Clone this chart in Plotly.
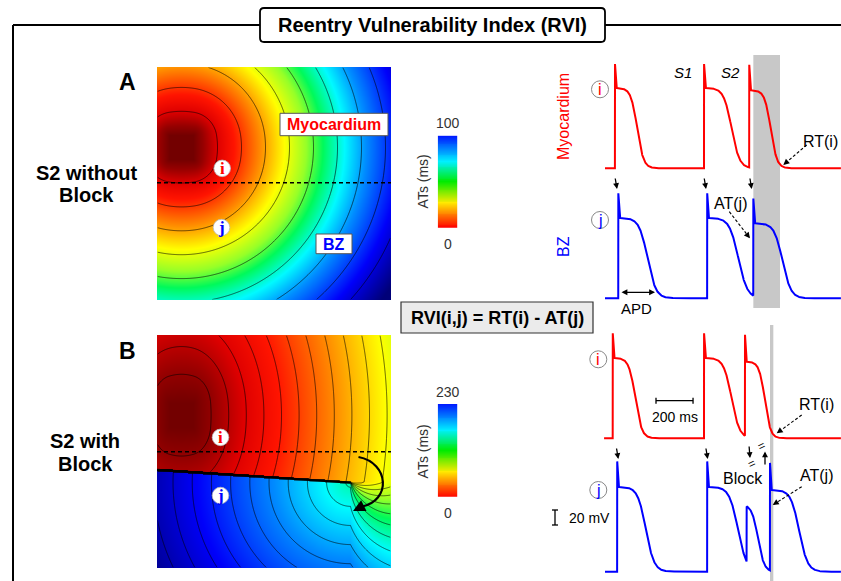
import numpy as np
import plotly.graph_objects as go

W, H = 841, 581
SANS = "Liberation Sans, Arial, Helvetica, sans-serif"
SERIF = "Liberation Serif, Times New Roman, serif"

# ------------------------------------------------------------------
# Activation-time maps (grid units, ms) -- conduction parameters
# ------------------------------------------------------------------
MAP_N = 234
STIM_XY = (24.0, 80.0)
STIM_HALF = 12.0
STIM_SHAPE_MS = 15.0
A_VEL = 2.4
A_AT_MAX = 100
A_CONTOUR_STEP = 10
B_VEL_X = 2.2
B_VEL_Y = 3.3
B_VEL_BZ = 2.4
B_PIVOT_DELAY = 60
B_BLOCK_START = (0.0, 135.0)
B_BLOCK_END = (193.0, 147.7)
B_AT_MAX = 230
B_CONTOUR_STEP = 8
A_DASH_Y = 115.7
B_DASH_Y = 116.7
A_SITE_I = (64.7, 101.3)
A_SITE_J = (64.0, 160.7)
B_SITE_I = (63.0, 102.3)
B_SITE_J = (63.0, 160.7)

# ------------------------------------------------------------------
# Action potentials (ms, mV)
# ------------------------------------------------------------------
V_REST = -85.0
SPIKE_MS = 6.0
T_END = 1301.0
A_TRACE_START = 27.0
B_RED_START = 22.0
B_BLUE_START = 27.0

A_RED_UP = [81, 562, 806]
A_RED_APD = [171, 212, 166]
A_RED_PEAK = [54, 54, 53]
A_RED_PLAT = [22, 22, 19]

A_BLUE_UP = [99, 579, 828]
A_BLUE_APD = [225, 240, 225]
A_BLUE_PEAK = [55, 55, 48]
A_BLUE_PLAT = [22, 22, 15]

B_RED_UP = [69, 562, 783]
B_RED_APD = [174, 212, 153]
B_RED_PEAK = [55, 55, 53]
B_RED_PLAT = [22, 22, 17]

B_BLUE_UP = [93, 579, 792, 918]
B_BLUE_APD = [221, 213, 111, 225]
B_BLUE_PEAK = [62, 62, 2, 60]
B_BLUE_PLAT = [28, 28, 2, 24]
B_BLUE_SHAPE_C = [0.7, 0.78, 0.55, 0.7]
B_BLUE_SHAPE_W = [0.1, 0.11, 0.15, 0.1]

SCALE_MS = 200
SCALE_MV = 20

# ------------------------------------------------------------------
# layout constants (pixels)
# ------------------------------------------------------------------
MS_PER_PX = 5.4
MV_PER_PX = 1.333
T0_PX = 600.0


def fx(p):
    return p / W


def fy(p):
    return 1 - p / H


def dom_x(a, b):
    return [a / W, b / W]


def dom_y(top, bot):
    return [1 - bot / H, 1 - top / H]


# ------------------------------------------------------------------
# AT fields
# ------------------------------------------------------------------
gx = np.arange(MAP_N, dtype=float)
X, Y = np.meshgrid(gx, gx)


def stim_time(Xa, Ya, vx, vy):
    dxa = np.abs(Xa - STIM_XY[0])
    dya = np.abs(Ya - STIM_XY[1])
    ddx = np.maximum(dxa - STIM_HALF, 0)
    ddy = np.maximum(dya - STIM_HALF, 0)
    t_sq = np.sqrt((ddx / vx) ** 2 + (ddy / vy) ** 2)
    t_c = np.maximum(np.hypot(dxa / vx, dya / vy) - STIM_HALF / vx, 0)
    w = np.exp(-t_sq / STIM_SHAPE_MS)
    return w * t_sq + (1 - w) * t_c


at_a = np.clip(stim_time(X, Y, A_VEL, A_VEL), 0, A_AT_MAX)

top_b = stim_time(X, Y, B_VEL_X, B_VEL_Y)
pxb, pyb = B_BLOCK_END
at_pivot = float(stim_time(np.array(pxb), np.array(pyb), B_VEL_X, B_VEL_Y))
phi = np.arctan2(Y - pyb, X - pxb)
phi_b = np.arctan2(B_BLOCK_START[1] - pyb, B_BLOCK_START[0] - pxb)
psi = np.mod(phi - phi_b, 2 * np.pi)
psi0 = np.mod(-phi_b, 2 * np.pi)
s = np.clip((psi - psi0) / (np.pi / 2), 0, 1)
r = np.hypot(X - pxb, Y - pyb)
far = at_pivot + B_PIVOT_DELAY + r / B_VEL_BZ
at_b = np.clip((1 - s) * top_b + s * far, 0, B_AT_MAX)

MAP_CS = [
    [0.00, "rgb(115,0,0)"],
    [0.04, "rgb(150,0,0)"],
    [0.10, "rgb(222,0,0)"],
    [0.17, "rgb(255,20,0)"],
    [0.28, "rgb(255,140,0)"],
    [0.38, "rgb(255,255,0)"],
    [0.47, "rgb(150,255,40)"],
    [0.54, "rgb(0,250,90)"],
    [0.63, "rgb(0,250,255)"],
    [0.72, "rgb(0,140,255)"],
    [0.86, "rgb(0,0,250)"],
    [1.00, "rgb(0,0,120)"],
]
BAR_CS = [
    [0.00, "rgb(255,0,0)"],
    [0.14, "rgb(255,120,0)"],
    [0.27, "rgb(255,235,0)"],
    [0.50, "rgb(0,235,0)"],
    [0.72, "rgb(0,240,255)"],
    [1.00, "rgb(0,20,255)"],
]

# ------------------------------------------------------------------
# AP waveforms
# ------------------------------------------------------------------


def ap_trace(t_start, ups, apds, peaks, plats, cs=None, ws=None):
    t = np.arange(t_start, T_END + 0.25, 0.5)
    v = np.full_like(t, V_REST)
    for k in range(len(ups)):
        c = 0.7 if cs is None else cs[k]
        w = 0.1 if ws is None else ws[k]
        m = t >= ups[k]
        dt = t[m] - ups[k]
        tau = dt / apds[k]
        g = 1 / (1 + np.exp((tau - c) / w))
        g0 = 1 / (1 + np.exp(-c / w))
        vk = V_REST + (plats[k] - V_REST) * g / g0
        sp = dt < SPIKE_MS
        vk[sp] = peaks[k] + (vk[sp] - peaks[k]) * dt[sp] / SPIKE_MS
        v[m] = vk
    return t, v


fig = go.Figure()

# maps
fig.add_trace(go.Heatmap(z=at_a, x=gx, y=gx, colorscale=MAP_CS, zmin=0, zmax=A_AT_MAX,
                         showscale=False, hoverinfo="skip", xaxis="x", yaxis="y"))
fig.add_trace(go.Contour(z=at_a, x=gx, y=gx, showscale=False, hoverinfo="skip",
                         contours=dict(coloring="none", start=A_CONTOUR_STEP,
                                       end=A_AT_MAX - A_CONTOUR_STEP, size=A_CONTOUR_STEP),
                         line=dict(color="black", width=0.6), xaxis="x", yaxis="y"))
fig.add_trace(go.Heatmap(z=at_b, x=gx, y=gx, colorscale=MAP_CS, zmin=0, zmax=B_AT_MAX,
                         showscale=False, hoverinfo="skip", xaxis="x2", yaxis="y2"))
fig.add_trace(go.Contour(z=at_b, x=gx, y=gx, showscale=False, hoverinfo="skip",
                         contours=dict(coloring="none", start=B_CONTOUR_STEP,
                                       end=B_AT_MAX - B_CONTOUR_STEP, size=B_CONTOUR_STEP),
                         line=dict(color="black", width=0.6), xaxis="x2", yaxis="y2"))

# colour bars
for ax_i, vmax in ((3, A_AT_MAX), (4, B_AT_MAX)):
    yy = np.linspace(0, vmax, 101)
    fig.add_trace(go.Heatmap(z=yy.reshape(-1, 1), x=[0], y=yy, colorscale=BAR_CS,
                             zmin=0, zmax=vmax, showscale=False, hoverinfo="skip",
                             xaxis=f"x{ax_i}", yaxis=f"y{ax_i}"))

# traces
RED, BLUE = "#ff0000", "#0000ff"
t, v = ap_trace(A_TRACE_START, A_RED_UP, A_RED_APD, A_RED_PEAK, A_RED_PLAT)
fig.add_trace(go.Scatter(x=t, y=v, mode="lines", line=dict(color=RED, width=2),
                         hoverinfo="skip", xaxis="x5", yaxis="y5"))
t, v = ap_trace(A_TRACE_START, A_BLUE_UP, A_BLUE_APD, A_BLUE_PEAK, A_BLUE_PLAT)
fig.add_trace(go.Scatter(x=t, y=v, mode="lines", line=dict(color=BLUE, width=2),
                         hoverinfo="skip", xaxis="x6", yaxis="y6"))
t, v = ap_trace(B_RED_START, B_RED_UP, B_RED_APD, B_RED_PEAK, B_RED_PLAT)
fig.add_trace(go.Scatter(x=t, y=v, mode="lines", line=dict(color=RED, width=2),
                         hoverinfo="skip", xaxis="x7", yaxis="y7"))
t, v = ap_trace(B_BLUE_START, B_BLUE_UP, B_BLUE_APD, B_BLUE_PEAK, B_BLUE_PLAT,
                B_BLUE_SHAPE_C, B_BLUE_SHAPE_W)
fig.add_trace(go.Scatter(x=t, y=v, mode="lines", line=dict(color=BLUE, width=2),
                         hoverinfo="skip", xaxis="x8", yaxis="y8"))

# ------------------------------------------------------------------
# axes
# ------------------------------------------------------------------
layout_axes = {}


def set_axes(i, xd, yd, xr, yr):
    xk = "xaxis" if i == 1 else f"xaxis{i}"
    yk = "yaxis" if i == 1 else f"yaxis{i}"
    layout_axes[xk] = dict(domain=xd, range=xr, visible=False, fixedrange=True,
                           anchor="y" if i == 1 else f"y{i}")
    layout_axes[yk] = dict(domain=yd, range=yr, visible=False, fixedrange=True,
                           anchor="x" if i == 1 else f"x{i}")


set_axes(1, dom_x(157, 391), dom_y(67, 300), [-0.5, MAP_N - 0.5], [MAP_N - 0.5, -0.5])
set_axes(2, dom_x(157, 391), dom_y(335, 568), [-0.5, MAP_N - 0.5], [MAP_N - 0.5, -0.5])
set_axes(3, dom_x(437.7, 457.3), dom_y(135.7, 227.7), [-0.5, 0.5], [0, A_AT_MAX])
set_axes(4, dom_x(437.7, 457.3), dom_y(404, 496.7), [-0.5, 0.5], [0, B_AT_MAX])

TX_L, TX_R = 540.0, 841.0
t_range = [(TX_L - T0_PX) * MS_PER_PX, (TX_R - T0_PX) * MS_PER_PX]


def v_range(base_px, top_px, bot_px):
    return [V_REST - (bot_px - base_px) * MV_PER_PX, V_REST + (base_px - top_px) * MV_PER_PX]


set_axes(5, dom_x(TX_L, TX_R), dom_y(50, 176), t_range, v_range(168.3, 50, 176))
set_axes(6, dom_x(TX_L, TX_R), dom_y(180, 306), t_range, v_range(298.3, 180, 306))
set_axes(7, dom_x(TX_L, TX_R), dom_y(320, 446), t_range, v_range(438.3, 320, 446))
set_axes(8, dom_x(TX_L, TX_R), dom_y(450, 580), t_range, v_range(571.7, 450, 580))

# ------------------------------------------------------------------
# shapes & annotations
# ------------------------------------------------------------------
shapes = []
ann = []


def pline(x0, y0, x1, y1, color="black", width=1.0, dash=None, layer="above"):
    d = dict(type="line", xref="paper", yref="paper", x0=fx(x0), y0=fy(y0), x1=fx(x1), y1=fy(y1),
             line=dict(color=color, width=width), layer=layer)
    if dash:
        d["line"]["dash"] = dash
    shapes.append(d)


def prect(x0, y0, x1, y1, fill="white", line="black", width=1.0, layer="above"):
    shapes.append(dict(type="rect", xref="paper", yref="paper", x0=fx(x0), y0=fy(y0), x1=fx(x1),
                       y1=fy(y1), fillcolor=fill, line=dict(color=line, width=width), layer=layer))


def pcircle(cx, cy, rad, fill="white", line="#888", width=1.0):
    shapes.append(dict(type="circle", xref="paper", yref="paper", x0=fx(cx - rad), x1=fx(cx + rad),
                       y0=fy(cy + rad), y1=fy(cy - rad), fillcolor=fill,
                       line=dict(color=line, width=width)))


def txt(s_, x, y, size, color="black", bold=False, italic=False, angle=0, family=SANS,
        xanchor="center"):
    if bold:
        s_ = f"<b>{s_}</b>"
    if italic:
        s_ = f"<i>{s_}</i>"
    ann.append(dict(text=s_, x=fx(x), y=fy(y), xref="paper", yref="paper", showarrow=False,
                    xanchor=xanchor, yanchor="middle", textangle=angle,
                    font=dict(size=size, color=color, family=family)))


def arrow(x0, y0, x1, y1, width=1.3, size=0.9, head=2, side="end"):
    ann.append(dict(text="", x=fx(x1), y=fy(y1), xref="paper", yref="paper", showarrow=True,
                    ax=x0 - x1, ay=y0 - y1, axref="pixel", ayref="pixel", arrowhead=head,
                    startarrowhead=head, arrowside=side, arrowsize=size, startarrowsize=size,
                    arrowwidth=width, arrowcolor="black", standoff=0, startstandoff=0))


def dashed_arrow(x0, y0, x1, y1):
    L = np.hypot(x1 - x0, y1 - y0)
    ux, uy = (x1 - x0) / L, (y1 - y0) / L
    xm, ym = x1 - 6 * ux, y1 - 6 * uy
    pline(x0, y0, xm, ym, width=1.1, dash="3px,2px")
    arrow(xm, ym, x1, y1, width=1.1, size=1.1)


def rounded_path(x0, y0, x1, y1, rr):
    pts = []

    def P(x, y):
        return f"{fx(x):.5f},{fy(y):.5f}"
    pts.append("M " + P(x0 + rr, y0))
    pts.append("L " + P(x1 - rr, y0))
    pts.append("Q " + P(x1, y0) + " " + P(x1, y0 + rr))
    pts.append("L " + P(x1, y1 - rr))
    pts.append("Q " + P(x1, y1) + " " + P(x1 - rr, y1))
    pts.append("L " + P(x0 + rr, y1))
    pts.append("Q " + P(x0, y1) + " " + P(x0, y1 - rr))
    pts.append("L " + P(x0, y0 + rr))
    pts.append("Q " + P(x0, y0) + " " + P(x0 + rr, y0))
    return " ".join(pts) + " Z"


# grey RVI windows  [AT(j), RT(i)]
shapes.append(dict(type="rect", xref="x5", yref="paper", x0=A_BLUE_UP[2],
                   x1=A_RED_UP[2] + A_RED_APD[2], y0=fy(308), y1=fy(55),
                   fillcolor="#c8c8c8", line=dict(width=0), layer="below"))
shapes.append(dict(type="rect", xref="x7", yref="paper", x0=B_BLUE_UP[3],
                   x1=B_RED_UP[2] + B_RED_APD[2], y0=fy(581), y1=fy(325),
                   fillcolor="#c8c8c8", line=dict(width=0), layer="below"))

# frame + title
pline(13, 25, 841, 25, width=2)
pline(13, 25, 13, 581, width=2)
shapes.append(dict(type="path", xref="paper", yref="paper", path=rounded_path(260, 8, 605, 42, 4),
                   fillcolor="white", line=dict(color="black", width=1.8)))
txt("Reentry Vulnerability Index (RVI)", 432.5, 25.5, 20, bold=True)

# panel labels
txt("A", 128, 82, 23, bold=True)
txt("B", 128, 351, 23, bold=True)
txt("S2 without", 86, 172.5, 20, bold=True)
txt("Block", 86, 195.5, 20, bold=True)
txt("S2 with", 85, 441, 20, bold=True)
txt("Block", 85, 463.5, 20, bold=True)

# map decorations (map grid coordinates)
shapes.append(dict(type="line", xref="x2", yref="y2", x0=B_BLOCK_START[0] - 0.5,
                   y0=B_BLOCK_START[1], x1=B_BLOCK_END[0], y1=B_BLOCK_END[1],
                   line=dict(color="black", width=2.2)))
for axn, dash_y in (("", A_DASH_Y), ("2", B_DASH_Y)):
    shapes.append(dict(type="line", xref="x" + axn, yref="y" + axn, x0=-0.5, x1=MAP_N - 0.5,
                       y0=dash_y, y1=dash_y, line=dict(color="black", width=1.6, dash="4px,3px")))
for axn, (sx, sy), lab, col in (("", A_SITE_I, "i", RED), ("", A_SITE_J, "j", BLUE),
                                ("2", B_SITE_I, "i", RED), ("2", B_SITE_J, "j", BLUE)):
    shapes.append(dict(type="circle", xref="x" + axn, yref="y" + axn, x0=sx - 8.3, x1=sx + 8.3,
                       y0=sy - 8.3, y1=sy + 8.3, fillcolor="white",
                       line=dict(color="#bbbbbb", width=0.8)))
    ann.append(dict(text=f"<b>{lab}</b>", x=sx, y=sy, xref="x" + axn, yref="y" + axn,
                    showarrow=False, xanchor="center", yanchor="middle",
                    font=dict(size=17, color=col, family=SERIF)))

prect(280, 113.3, 388, 135.7, fill="white", line="#555", width=1)
txt("Myocardium", 334, 124.8, 16, color=RED, bold=True)
prect(316, 234, 352, 253.7, fill="white", line="#555", width=1)
txt("BZ", 334, 244.3, 16, color=BLUE, bold=True)

# curved arrow in map B
shapes.append(dict(type="path", xref="x2", yref="y2",
                   path="M 201,122 C 232,128 234,166 204,172",
                   line=dict(color="black", width=2.2)))
arrow(364, 505.5, 353, 511, width=2.2, size=1.1)

# colour-bar labels
txt("100", 448.3, 123.3, 14, color="#333")
txt("0", 448.3, 244, 14, color="#333")
txt("ATs (ms)", 422.7, 181.7, 14, color="#333", angle=-90)
txt("230", 448.3, 391.7, 14, color="#333")
txt("0", 448.3, 513.3, 14, color="#333")
txt("ATs (ms)", 422.7, 451.7, 14, color="#333", angle=-90)

# RVI formula box
prect(401, 302, 593, 333, fill="#ebebeb", line="#333", width=1.2)
txt("RVI(i,j) = RT(i) - AT(j)", 497, 317.8, 18, bold=True)

# trace labels
txt("Myocardium", 563.3, 116.7, 16, color=RED, angle=-90)
txt("BZ", 563.3, 246.7, 16, color=BLUE, angle=-90)
for cx, cy, lab, col in ((600, 89.3, "i", RED), (600, 220, "j", BLUE),
                         (598.3, 359.3, "i", RED), (598.3, 490, "j", BLUE)):
    pcircle(cx, cy, 8.5)
    txt(lab, cx, cy + 0.5, 16, color=col)

txt("S1", 683, 73, 15, italic=True)
txt("S2", 730, 73, 15, italic=True)
txt("RT(i)", 820, 141.7, 16)
txt("AT(j)", 730, 203.3, 16)
txt("APD", 636.7, 308.3, 15)
txt("200 ms", 675, 416.7, 14)
txt("RT(i)", 816.7, 405, 16)
txt("Block", 743.3, 478.3, 16)
txt("AT(j)", 816.7, 475, 16)
txt("20 mV", 567, 518.3, 14, xanchor="left")

# arrows
for xa in (616, 705, 750.7):
    arrow(xa - 1, 177, xa + 1, 189)
for xa in (617.3, 706.7):
    arrow(xa - 1, 447, xa + 1, 459)
arrow(749, 445, 750, 458)
arrow(765, 466, 765, 451.5)
txt("=", 751, 463.5, 12, angle=-25)
txt("=", 761, 446, 12, angle=-25)
arrow(620, 292.3, 655, 292.3, width=1.3, size=0.9, side="end+start")
dashed_arrow(806.7, 145, 783.3, 165)
dashed_arrow(729.3, 211.7, 750, 238.3)
dashed_arrow(801.7, 415, 776.7, 433.3)
dashed_arrow(801.7, 486.7, 772.7, 505)

# scale bars (data units)
sb_v = V_REST + (438.3 - 400.7) * MV_PER_PX
sb_t0 = (656 - T0_PX) * MS_PER_PX
shapes.append(dict(type="line", xref="x7", yref="y7", x0=sb_t0, x1=sb_t0 + SCALE_MS, y0=sb_v, y1=sb_v,
                   line=dict(color="black", width=1.3)))
for tt in (sb_t0, sb_t0 + SCALE_MS):
    shapes.append(dict(type="line", xref="x7", yref="y7", x0=tt, x1=tt, y0=sb_v - 4, y1=sb_v + 4,
                       line=dict(color="black", width=1.3)))
mv0 = V_REST + (571.7 - 525) * MV_PER_PX
shapes.append(dict(type="line", xref="paper", yref="y8", x0=fx(555), x1=fx(555), y0=mv0,
                   y1=mv0 + SCALE_MV, line=dict(color="black", width=1.3)))
for vv in (mv0, mv0 + SCALE_MV):
    shapes.append(dict(type="line", xref="paper", yref="y8", x0=fx(552), x1=fx(558), y0=vv, y1=vv,
                       line=dict(color="black", width=1.3)))

fig.update_layout(
    width=W, height=H, margin=dict(l=0, r=0, t=0, b=0),
    paper_bgcolor="white", plot_bgcolor="rgba(0,0,0,0)",
    showlegend=False, shapes=shapes, annotations=ann,
    font=dict(family=SANS),
    **layout_axes,
)

fig.write_html("out.html")
